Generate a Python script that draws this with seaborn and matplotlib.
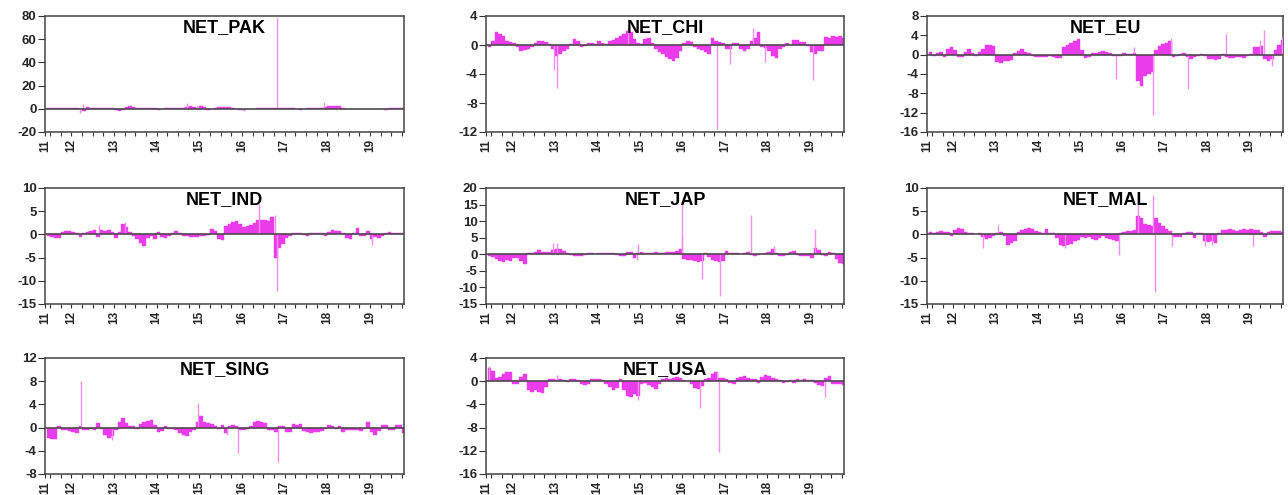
import numpy as np
import pandas as pd
import matplotlib
matplotlib.use("Agg")
import matplotlib.pyplot as plt
import seaborn as sns

# Monthly levels, Jun 2011 .. Oct 2019 (one row per year)
net_pak = [
    0.8, 1.0, 0.8, 0.5, 0.3, 0.5, 0.6,
    0.8, 0.5, -0.5, -1.5, 1.5, 0.8, 0.7, 0.8, 0.6, 0.5, 0.4, 0.3,
    -1.2, -1.5, -1.2, 1.5, 2.0, 1.5, 0.8, 0.3, 0.5, 0.6, 0.3, 0.4,
    -0.8, -0.5, 0.3, 0.5, 0.3, 0.5, 0.6, 0.8, 1.2, 2.5, 1.5, 0.8,
    2.0, 1.2, -0.8, -0.5, 0.5, 1.2, 1.5, 1.5, 1.2, 0.3, -0.5, -0.8,
    -0.8, -0.5, -0.5, -0.3, 0.3, 0.4, 0.3, 0.5, 0.4, 0.3, 0.3, 0.4,
    0.3, 0.3, 0.4, -0.5, -0.8, -0.5, 0.3, 0.4, 0.5, 0.8, 1.0, 1.5,
    2.0, 2.5, 2.5, 2.0, 0.5, -0.5, -0.6, -0.5, -0.4, -0.3, -0.3, -0.4,
    -0.5, -0.6, -0.3, -0.5, -0.8, 0.5, 1.0, 0.8, 0.5, 0.3,
]
net_chi = [
    -0.3, 0.5, 1.8, 1.5, 1.2, 0.6, 0.4,
    0.3, -0.3, -0.8, -0.7, -0.5, -0.3, 0.3, 0.5, 0.5, 0.4, 0.2, -0.5,
    -1.5, -1.2, -0.8, -0.6, 0.2, 0.8, 0.6, -0.3, -0.2, 0.3, 0.3, 0.2,
    0.5, 0.3, 0.2, 0.5, 0.7, 1.0, 1.2, 1.5, 2.0, 1.8, 0.8, 0.3,
    0.2, 0.8, 1.0, 0.3, -0.6, -1.0, -1.3, -1.6, -2.0, -2.2, -1.8, -0.8,
    0.3, 0.5, 0.4, -0.3, -0.5, -0.7, -0.9, -1.2, 1.0, 0.5, 0.4, 0.3,
    -0.5, -0.6, 0.3, 0.3, -0.5, -0.8, -0.5, 0.6, 1.0, 1.8, -0.3, -0.4,
    -0.8, -1.5, -1.8, -0.6, -0.3, 0.3, 0.0, 0.7, 0.7, 0.4, 0.4, -0.2,
    -1.0, -1.2, -0.8, -0.8, 1.1, 1.0, 1.2, 1.1, 1.2, 1.0,
]
net_eu = [
    0.5, -0.2, 0.4, 0.6, -0.4, 1.2, 1.5,
    1.0, -0.5, -0.4, 0.6, 1.2, 0.4, -0.2, 0.5, 1.2, 2.0, 2.0, 1.8,
    -1.6, -1.8, -1.3, -1.4, -1.2, 0.3, 0.8, 1.2, 0.5, 0.3, -0.2, -0.5,
    -0.5, -0.5, -0.4, -0.3, -0.5, -0.6, -0.7, 1.5, 2.0, 2.5, 2.8, 3.2,
    1.0, -0.6, -0.5, 0.3, 0.3, 0.5, 0.7, 0.5, 0.3, -0.2, -0.3, -0.2,
    0.3, 0.2, 0.2, 0.3, -5.5, -6.5, -4.5, -4.0, -3.5, 1.0, 1.8, 2.3,
    2.5, 2.8, -0.5, -0.3, 0.2, 0.3, -0.5, -0.8, -0.4, -0.3, 0.2, -0.3,
    -0.8, -1.0, -1.2, -0.8, 0.2, -0.5, -0.6, -0.7, -0.5, -0.4, -0.6, -0.3,
    0.2, 1.5, 1.6, 1.8, -0.8, -1.3, -1.0, 1.0, 2.0, 3.0,
]
net_ind = [
    -0.4, -0.5, -0.8, -0.7, 0.5, 0.8, 0.7,
    0.6, 0.3, -0.6, 0.4, 0.5, 0.8, 1.0, -0.5, 1.0, 0.8, 1.0, 0.6,
    -0.8, 0.5, 2.2, 1.5, 0.5, -0.3, -1.0, -1.8, -2.5, -0.8, -0.4, -1.0,
    0.6, -0.5, -0.7, -0.3, 0.4, 0.7, 0.3, -0.3, -0.4, -0.5, -0.6, -0.5,
    -0.4, -0.3, -0.2, 1.2, 0.8, -1.0, -1.2, 1.8, 2.2, 2.6, 2.8, 2.3,
    1.5, 1.8, 2.0, 2.5, 3.0, 3.2, 3.0, 2.8, 3.8, -5.0, -3.0, -2.0,
    -0.8, -0.3, 0.3, 0.2, 0.3, -0.2, -0.4, 0.2, 0.3, 0.3, 0.2, -0.4,
    0.5, 1.0, 0.8, 0.8, 0.3, -0.8, -1.0, 0.3, 1.4, -0.4, -0.3, 0.8,
    -1.0, -0.5, -0.8, -0.4, 0.3, 0.5, 0.4, 0.2, 0.3, 0.3,
]
net_jap = [
    -0.5, -0.8, -1.5, -2.0, -2.3, -1.8, -2.0,
    -1.2, -1.0, -2.0, -2.8, 0.3, 0.5, 0.8, 1.2, 0.6, 0.8, 0.8, 1.3,
    1.5, 1.5, 1.0, 0.5, -0.3, -0.5, -0.6, -0.4, -0.3, 0.3, 0.3, 0.2,
    0.3, 0.4, 0.5, 0.5, 0.4, -0.3, -0.5, -0.4, 0.6, 0.8, -1.2, 0.5,
    0.8, 0.3, 0.5, 0.5, 0.6, 0.5, 0.5, 0.7, 0.8, 0.6, 1.0, 1.5,
    -1.5, -1.8, -1.8, -2.0, -2.2, -2.0, 0.5, -0.8, -1.8, -2.0, -2.2, -2.0,
    1.0, 0.4, 0.3, 0.3, 0.2, 0.3, 0.8, -0.3, -0.4, -0.3, 0.2, 0.3,
    0.6, 1.5, 0.5, -0.4, -0.5, -0.3, 0.8, 1.0, -0.3, -0.5, -0.4, -0.5,
    -1.0, 2.0, 1.2, -0.3, -0.5, 0.8, 0.5, -1.5, -2.5, -2.8,
]
net_mal = [
    0.5, 0.4, 0.6, 0.8, 0.5, 0.6, -0.3,
    1.0, 1.3, 1.2, 0.6, 0.4, 0.2, 0.1, 0.2, -0.5, -1.0, -0.8, -0.3,
    0.4, 0.5, -0.3, -2.3, -1.8, -1.5, 0.6, 0.9, 1.2, 1.4, 1.1, 0.8,
    0.5, 0.4, 1.2, 0.4, 0.2, -0.8, -2.2, -2.6, -2.3, -2.0, -1.5, -1.2,
    -0.6, -0.8, -0.5, -1.0, -1.2, -0.8, -0.4, -0.8, -1.0, -1.2, -1.5, 0.3,
    0.6, 0.7, 0.8, 1.0, 4.0, 3.5, 2.2, 2.0, 1.8, 3.5, 2.5, 1.8,
    1.2, 0.8, -0.5, -0.5, -0.6, 0.3, 0.6, 0.5, -0.7, 0.4, 0.3, -1.5,
    -1.6, -1.5, -1.8, 0.2, 1.0, 1.0, 1.2, 0.9, 0.8, 1.0, 1.2, 1.0,
    1.1, 1.0, 0.9, 0.5, -0.5, 0.6, 0.8, 0.7, 0.7, 0.6,
]
net_sing = [
    -1.8, -2.0, -2.0, 0.3, -0.4, -0.5, -0.6,
    -0.8, -1.0, 0.3, -0.4, -0.5, -0.3, -0.5, 0.8, -0.3, -1.2, -1.8, -1.5,
    -0.4, 1.0, 1.6, 0.8, 0.3, 0.3, -0.3, 0.6, 1.0, 1.2, 1.3, 0.4,
    -0.8, -0.6, 0.2, -0.3, -0.3, -0.5, -0.9, -1.2, -1.4, -0.8, -0.5, 1.0,
    2.0, 1.0, 0.8, 0.6, 0.3, -0.2, 0.4, -1.0, 0.3, 0.4, 0.2, -0.5,
    -0.4, -0.3, 0.2, 1.0, 1.2, 0.9, 0.8, -0.4, -0.5, -0.8, 0.3, 0.2,
    -0.7, -0.8, 0.6, 0.5, 0.6, -0.6, -0.8, -0.9, -0.8, -0.7, -0.6, -0.3,
    0.5, 0.3, -0.3, 0.3, -0.8, -0.5, -0.4, -0.5, -0.4, -0.6, -0.3, 1.0,
    -0.8, -1.3, -0.6, 0.4, 0.5, -0.4, -0.5, 0.4, 0.5, -0.9,
]
net_usa = [
    2.2, 1.8, 0.6, 0.8, 1.3, 1.5, 1.5,
    -0.4, -0.5, 0.8, 1.2, -1.5, -1.8, -1.6, -1.8, -2.0, -1.0, 0.4, 0.3,
    0.2, 0.4, 0.2, -0.2, 0.3, 0.4, 0.2, -0.4, -0.6, -0.5, 0.3, 0.4,
    0.3, 0.2, -0.5, -1.0, -1.5, -1.2, 0.3, -1.5, -2.5, -2.8, -2.2, -2.5,
    -0.5, -0.3, -0.6, -1.0, -1.3, -0.5, 0.3, 0.5, 0.4, 0.6, 0.7, 0.5,
    0.2, 0.1, -0.5, -1.2, -1.3, -0.8, 0.3, 0.6, 1.2, 1.5, 0.5, 0.6,
    0.4, -0.3, -0.4, 0.6, 0.8, 0.9, 0.5, 0.3, 0.4, -0.3, 0.8, 1.0,
    0.9, 0.6, 0.3, 0.2, -0.3, -0.2, 0.2, -0.3, 0.3, 0.2, 0.3, 0.2,
    0.2, -0.3, -0.6, -0.8, 0.5, 0.9, -0.4, -0.5, -0.5, -0.6,
]

# Isolated one-day spikes: (decimal year, value)
pak_spikes = [(2016.83, 78.0), (2012.20, -3.5), (2012.28, 4.0), (2014.72, 5.0),
              (2014.95, 3.5), (2017.93, 5.5), (2016.05, -2.0)]
chi_spikes = [(2012.97, -3.5), (2013.05, -6.0), (2016.82, -11.6), (2017.13, -2.6),
              (2017.66, 2.4), (2017.95, -2.4), (2019.08, -4.8), (2014.72, 2.3)]
eu_spikes = [(2015.85, -5.0), (2016.28, 1.6), (2016.73, -12.5), (2017.15, 3.5),
             (2017.55, -7.2), (2018.45, 4.2), (2019.25, 3.0), (2019.35, 5.0),
             (2019.55, -2.3), (2019.78, 3.6)]
ind_spikes = [(2012.65, 2.0), (2013.25, 2.6), (2016.40, 6.5), (2016.83, -12.2),
              (2016.78, 4.2), (2019.05, -2.2)]
jap_spikes = [(2012.95, 3.5), (2013.05, 3.5), (2014.95, 3.0), (2014.92, -1.8),
              (2015.98, 16.0), (2016.00, 5.5), (2016.47, -7.5), (2016.88, -12.5),
              (2017.62, 12.0), (2018.15, 2.5), (2019.12, 7.5)]
mal_spikes = [(2012.70, -3.0), (2013.05, 2.0), (2014.65, -3.0), (2015.93, -4.5),
              (2016.38, 7.8), (2016.72, 8.5), (2016.78, -12.5), (2017.18, -2.5),
              (2017.96, -2.5), (2018.12, -2.2), (2019.08, -2.5)]
sing_spikes = [(2012.22, 8.0), (2012.95, -2.2), (2014.96, 4.2), (2015.90, -4.3),
               (2016.85, -6.0), (2015.65, -1.3)]
usa_spikes = [(2011.45, 2.6), (2013.05, 1.0), (2014.95, -3.3), (2016.42, -4.7),
              (2016.86, -12.2), (2016.82, 1.8), (2019.35, -2.7)]

panels = [
    ("NET_PAK", net_pak, pak_spikes, (-20, 80, 20)),
    ("NET_CHI", net_chi, chi_spikes, (-12, 4, 4)),
    ("NET_EU", net_eu, eu_spikes, (-16, 8, 4)),
    ("NET_IND", net_ind, ind_spikes, (-15, 10, 5)),
    ("NET_JAP", net_jap, jap_spikes, (-15, 20, 5)),
    ("NET_MAL", net_mal, mal_spikes, (-15, 10, 5)),
    ("NET_SING", net_sing, sing_spikes, (-8, 12, 4)),
    ("NET_USA", net_usa, usa_spikes, (-16, 4, 4)),
]

# axes boxes in pixels (left, top, right, bottom) of a 1288x495 canvas
W, H = 1288, 495
cols = [(45, 404), (486, 844), (927, 1283)]
rows = [(16, 132), (188, 304), (358, 474)]

MAG = "#EA3CEA"
SPIKE = "#F48CF4"

sns.set_theme(style="white")
plt.rcParams["font.family"] = ["Liberation Sans", "DejaVu Sans"]

fig = plt.figure(figsize=(W / 100, H / 100), dpi=100)

x0, x1 = 2011.38, 2019.80
for k, (name, vals, spikes, (lo, hi, step)) in enumerate(panels):
    assert len(vals) == 101, name
    r, c = divmod(k, 3)
    (l, rr), (t, b) = cols[c], rows[r]
    ax = fig.add_axes([l / W, 1 - b / H, (rr - l) / W, (b - t) / H])

    df = pd.DataFrame({
        "t": 2011 + (5 + np.arange(len(vals)) + 0.5) / 12,
        "v": vals,
    })
    sns.barplot(data=df, x="t", y="v", native_scale=True, width=1.0,
                color=MAG, saturation=1, errorbar=None, linewidth=0.3,
                edgecolor=MAG, ax=ax)
    sx = [s[0] for s in spikes]
    sy = [s[1] for s in spikes]
    ax.vlines(sx, 0, sy, color=SPIKE, lw=1.0, zorder=3)
    ax.axhline(0, color="#444444", lw=1.1, zorder=4)

    ax.set_xlim(x0, x1)
    ax.set_ylim(lo, hi)
    yt = np.arange(lo, hi + step / 2, step)
    ax.set_yticks(yt)
    ax.set_yticklabels([f"{v:g}" for v in yt], fontsize=9.5, fontweight="bold")
    years = list(range(2012, 2020))
    ax.set_xticks([x0] + years)
    ax.set_xticklabels(["11"] + [str(y)[2:] for y in years], rotation=90,
                       fontsize=8.5, fontweight="bold")
    ax.set_xticks(np.arange(2011.5, 2019.8, 0.25), minor=True)
    ax.tick_params(axis="y", direction="out", length=5, width=0.8,
                   color="#333333", pad=1, left=True)
    ax.tick_params(axis="x", which="both", direction="out", length=3,
                   width=0.8, color="#333333", pad=2, bottom=True)
    ax.set_xlabel("")
    ax.set_ylabel("")
    for sp in ax.spines.values():
        sp.set_color("#444444")
        sp.set_linewidth(1.1)
    ax.text(0.5, 0.975, name, transform=ax.transAxes, ha="center", va="top",
            fontsize=13, fontweight="bold", color="#000000", zorder=5)

fig.savefig("out.png", dpi=100)
